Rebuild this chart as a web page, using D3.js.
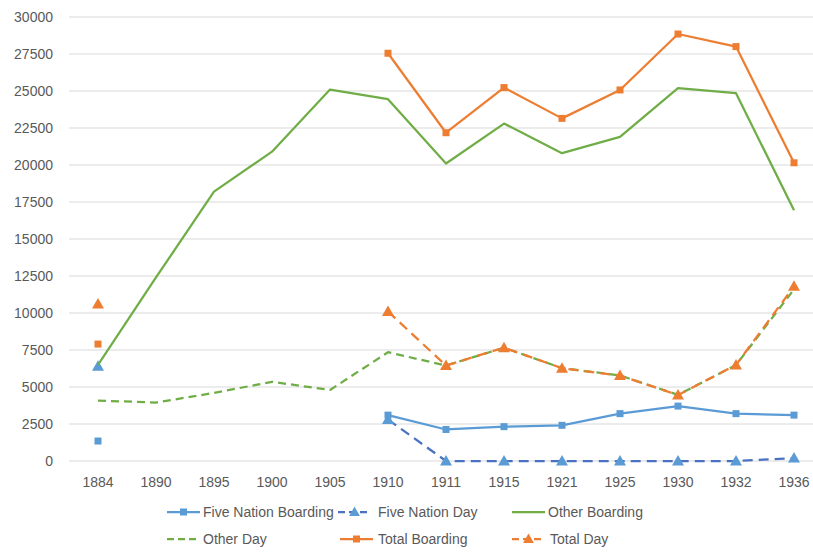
<!DOCTYPE html>
<html>
<head>
<meta charset="utf-8">
<script src="https://cdn.jsdelivr.net/npm/d3@7"></script>
<style>
  html, body { margin: 0; padding: 0; background: #fff; }
  svg { display: block; font-family: "Liberation Sans", Arial, sans-serif; }
</style>
</head>
<body>
<svg id="chart" width="813" height="555"></svg>
<script>
// Enrolment by year, split by school type
const categories = ["1884","1890","1895","1900","1905","1910","1911","1915","1921","1925","1930","1932","1936"];
const fiveNationBoarding = [1350, null, null, null, null, 3100, 2130, 2320, 2410, 3200, 3710, 3200, 3100];
const fiveNationDay      = [6400, null, null, null, null, 2800, 0, 0, 0, 0, 0, 0, 200];
const otherBoarding      = [6500, 12400, 18200, 20900, 25100, 24450, 20100, 22800, 20800, 21900, 25200, 24850, 16950];
const otherDay           = [4080, 3950, 4600, 5350, 4800, 7350, 6450, 7650, 6280, 5780, 4470, 6480, 11600];
const totalBoarding      = [7900, null, null, null, null, 27550, 22180, 25230, 23150, 25070, 28850, 28000, 20150];
const totalDay           = [10600, null, null, null, null, 10100, 6450, 7660, 6270, 5770, 4460, 6490, 11800];
const yTicks = [0, 2500, 5000, 7500, 10000, 12500, 15000, 17500, 20000, 22500, 25000, 27500, 30000];

const series = [
  { name: "Five Nation Boarding", values: fiveNationBoarding, line: "#5B9BD5", mark: "#5B9BD5", dash: null, marker: "square" },
  { name: "Five Nation Day",      values: fiveNationDay,      line: "#4A72C2", mark: "#5B9BD5", dash: "10,6", marker: "triangle" },
  { name: "Other Boarding",       values: otherBoarding,      line: "#70AD47", mark: "#70AD47", dash: null, marker: null },
  { name: "Other Day",            values: otherDay,           line: "#70AD47", mark: "#70AD47", dash: "8,5", marker: null },
  { name: "Total Boarding",       values: totalBoarding,      line: "#ED7D31", mark: "#ED7D31", dash: null, marker: "square" },
  { name: "Total Day",            values: totalDay,           line: "#ED7D31", mark: "#ED7D31", dash: "10,6", marker: "triangle" }
];

const svg = d3.select("#chart");
const plot = { left: 69, right: 823, top: 17, bottom: 461 };
const labelColor = "#595959";

const x = d3.scaleBand().domain(categories).range([plot.left, plot.right]);
const xc = c => x(c) + x.bandwidth() / 2;
const y = d3.scaleLinear().domain([0, 30000]).range([plot.bottom, plot.top]);

// Horizontal gridlines
svg.append("g").selectAll("line").data(yTicks).join("line")
  .attr("x1", plot.left).attr("x2", 813)
  .attr("y1", d => y(d)).attr("y2", d => y(d))
  .attr("stroke", "#D9D9D9").attr("stroke-width", 1);

// Y axis labels
const yAxis = svg.append("g")
  .attr("transform", `translate(${plot.left},0)`)
  .call(d3.axisLeft(y).tickValues(yTicks).tickSize(0).tickPadding(16).tickFormat(d3.format("d")));
yAxis.select(".domain").remove();
yAxis.selectAll("text").attr("fill", labelColor).attr("font-size", 14)
  .attr("font-family", "Liberation Sans, Arial, sans-serif");

// X axis labels
const xAxis = svg.append("g")
  .attr("transform", `translate(0,${plot.bottom})`)
  .call(d3.axisBottom(x).tickSize(0).tickPadding(0));
xAxis.select(".domain").remove();
xAxis.selectAll(".tick text")
  .attr("fill", labelColor).attr("font-size", 14)
  .attr("font-family", "Liberation Sans, Arial, sans-serif")
  .attr("y", 21).attr("dy", "0.35em");

// Lines and markers
const lineGen = d3.line()
  .defined(d => d.v !== null)
  .x(d => xc(d.c)).y(d => y(d.v));

function drawMarker(g, type, color, cx, cy, s) {
  if (type === "square") {
    g.append("rect").attr("x", cx - s / 2).attr("y", cy - s / 2)
      .attr("width", s).attr("height", s).attr("fill", color);
  } else if (type === "triangle") {
    const h = s;
    g.append("path")
      .attr("d", `M${cx},${cy - h * 0.6}L${cx + h * 0.6},${cy + h * 0.45}L${cx - h * 0.6},${cy + h * 0.45}Z`)
      .attr("fill", color);
  }
}

series.forEach(s => {
  const pts = categories.map((c, i) => ({ c, v: s.values[i] }));
  const g = svg.append("g");
  g.append("path").datum(pts)
    .attr("d", lineGen)
    .attr("fill", "none").attr("stroke", s.line).attr("stroke-width", 2.25)
    .attr("stroke-linejoin", "round")
    .attr("stroke-dasharray", s.dash);
  if (s.marker) {
    pts.filter(p => p.v !== null).forEach(p => {
      drawMarker(g, s.marker, s.mark, xc(p.c), y(p.v), s.marker === "square" ? 7 : 10);
    });
  }
});

// Legend
const legendPos = [
  { x: 167, y: 512, tx: 203 },
  { x: 338, y: 512, tx: 378 },
  { x: 512, y: 512, tx: 548 },
  { x: 167, y: 539, tx: 203 },
  { x: 340, y: 539, tx: 378 },
  { x: 512, y: 539, tx: 550 }
];
const legend = svg.append("g");
series.forEach((s, i) => {
  const p = legendPos[i];
  const g = legend.append("g");
  g.append("line").attr("x1", p.x).attr("x2", p.x + 33).attr("y1", p.y).attr("y2", p.y)
    .attr("stroke", s.line).attr("stroke-width", 2.25)
    .attr("stroke-dasharray", s.dash ? "7,4" : null);
  if (s.marker) drawMarker(g, s.marker, s.mark, p.x + 16.5, p.y, s.marker === "square" ? 7 : 9);
  g.append("text").attr("x", p.tx).attr("y", p.y).attr("dy", "0.35em")
    .attr("fill", labelColor).attr("font-size", 14)
    .text(s.name);
});
</script>
</body>
</html>
